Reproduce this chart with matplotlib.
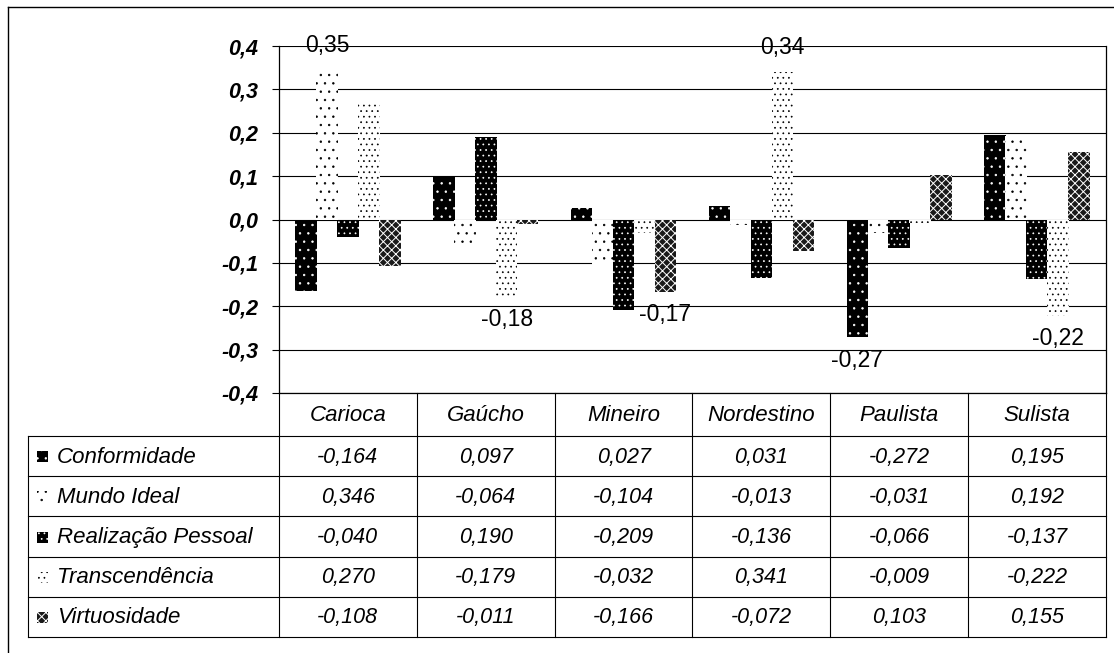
import matplotlib
matplotlib.use("Agg")
import matplotlib.pyplot as plt
import matplotlib.transforms as mtransforms
from matplotlib.lines import Line2D
from matplotlib.patches import Rectangle
import numpy as np

plt.rcParams["font.family"] = ["Liberation Sans", "DejaVu Sans"]
plt.rcParams["hatch.linewidth"] = 0.5

# ---- data -------------------------------------------------------------
categories = ["Carioca", "Gaúcho", "Mineiro", "Nordestino", "Paulista", "Sulista"]
series_names = ["Conformidade", "Mundo Ideal", "Realização Pessoal",
                "Transcendência", "Virtuosidade"]
conformidade = [-0.164, 0.097, 0.027, 0.031, -0.272, 0.195]
mundo_ideal = [0.346, -0.064, -0.104, -0.013, -0.031, 0.192]
realizacao_pessoal = [-0.040, 0.190, -0.209, -0.136, -0.066, -0.137]
transcendencia = [0.270, -0.179, -0.032, 0.341, -0.009, -0.222]
virtuosidade = [-0.108, -0.011, -0.166, -0.072, 0.103, 0.155]
series_values = [conformidade, mundo_ideal, realizacao_pessoal,
                 transcendencia, virtuosidade]
# (category index, series index) of the bars that carry a value label
labelled_bars = [(0, 1), (1, 3), (2, 4), (3, 3), (4, 0), (5, 3)]
y_ticks = [-0.4, -0.3, -0.2, -0.1, 0.0, 0.1, 0.2, 0.3, 0.4]

# ---- styles -----------------------------------------------------------
styles = [
    dict(facecolor="black", edgecolor="white", hatch=".."),
    dict(facecolor="white", edgecolor="black", hatch=".."),
    dict(facecolor="black", edgecolor="white", hatch="..."),
    dict(facecolor="white", edgecolor="black", hatch="..."),
    dict(facecolor="#1a1a1a", edgecolor="white", hatch="xxxx"),
]
hatch_lw = [0.5, 0.5, 0.5, 0.5, 0.7]

W, H = 1114, 653
fig = plt.figure(figsize=(W / 100, H / 100), dpi=100)
fig.patch.set_facecolor("white")


def px_box(x0, y0, x1, y1):
    return [x0 / W, 1 - y1 / H, (x1 - x0) / W, (y1 - y0) / H]


ax = fig.add_axes(px_box(279, 46, 1106, 393))
ov = fig.add_axes([0, 0, 1, 1])
ov.set_xlim(0, W)
ov.set_ylim(H, 0)
ov.axis("off")
ov.patch.set_visible(False)

# ---- bars -------------------------------------------------------------
n = len(series_values)
step = 0.152
width = 0.156
x = np.arange(len(categories))
for k, (vals, st) in enumerate(zip(series_values, styles)):
    with plt.rc_context({"hatch.linewidth": hatch_lw[k]}):
        ax.bar(x + (k - (n - 1) / 2) * step, vals, width=width,
               linewidth=0, zorder=3, **st)

for ci, si in labelled_bars:
    v = series_values[si][ci]
    xc = x[ci] + (si - (n - 1) / 2) * step
    txt = f"{v:.2f}".replace(".", ",")
    ax.annotate(txt, (xc, v), xytext=(0, 9 if v > 0 else -8),
                textcoords="offset points", ha="center",
                va="bottom" if v > 0 else "top", fontsize=16.5,
                zorder=5, annotation_clip=False)

ax.set_xlim(-0.5, len(categories) - 0.5)
ax.set_ylim(-0.4, 0.4)
ax.set_yticks(y_ticks)
ax.set_yticklabels([f"{t:.1f}".replace(".", ",").replace("-0,0", "0,0")
                    for t in y_ticks],
                   fontsize=15.5, fontweight="bold", fontstyle="italic")
ax.set_xticks([])
ax.tick_params(axis="y", direction="out", length=5, width=0.8, pad=10,
               color="black")
for sp in ax.spines.values():
    sp.set_linewidth(0.9)
    sp.set_color("black")
ax.spines["top"].set_visible(False)
for t in y_ticks:
    ax.axhline(t, color="black", linewidth=0.8, zorder=1)

# ---- data table -------------------------------------------------------
blend = mtransforms.blended_transform_factory(ax.transData, ov.transData)
lw = 0.8
tab_left, head_top, head_bot, tab_bot = 28, 393, 436, 637
row_edges = np.linspace(head_bot, tab_bot, len(series_names) + 1)

# column separators and right edge
for i in range(len(categories)):
    xb = i + 0.5
    ov.add_line(Line2D([xb, xb], [head_top, tab_bot], transform=blend,
                       color="black", linewidth=lw))
ov.add_line(Line2D([-0.5, -0.5], [head_top, tab_bot], transform=blend,
                   color="black", linewidth=lw))
ov.add_line(Line2D([tab_left, tab_left], [head_bot, tab_bot],
                   color="black", linewidth=lw))
for ye in row_edges:
    ov.plot([tab_left, 1106], [ye, ye], color="black", linewidth=lw)

for i, c in enumerate(categories):
    ov.text(i, (head_top + head_bot) / 2 + 1, c, transform=blend,
            ha="center", va="center", fontsize=16, fontstyle="italic")

for r, (name, vals, st) in enumerate(zip(series_names, series_values, styles)):
    yc = (row_edges[r] + row_edges[r + 1]) / 2
    with plt.rc_context({"hatch.linewidth": hatch_lw[r]}):
        ov.add_patch(Rectangle((37, yc - 5), 11, 11, linewidth=0, **st))
    ov.text(57, yc + 1, name, ha="left", va="center", fontsize=16,
            fontstyle="italic")
    for i, v in enumerate(vals):
        ov.text(i, yc + 1, f"{v:.3f}".replace(".", ","), transform=blend,
                ha="center", va="center", fontsize=15.5, fontstyle="italic")

# outer frame
ov.plot([8, 8], [7, H + 5], color="black", linewidth=1.0, clip_on=False)
ov.plot([8, W + 5], [7, 7], color="black", linewidth=1.0, clip_on=False)

fig.savefig("out.png", dpi=100, facecolor="white")
